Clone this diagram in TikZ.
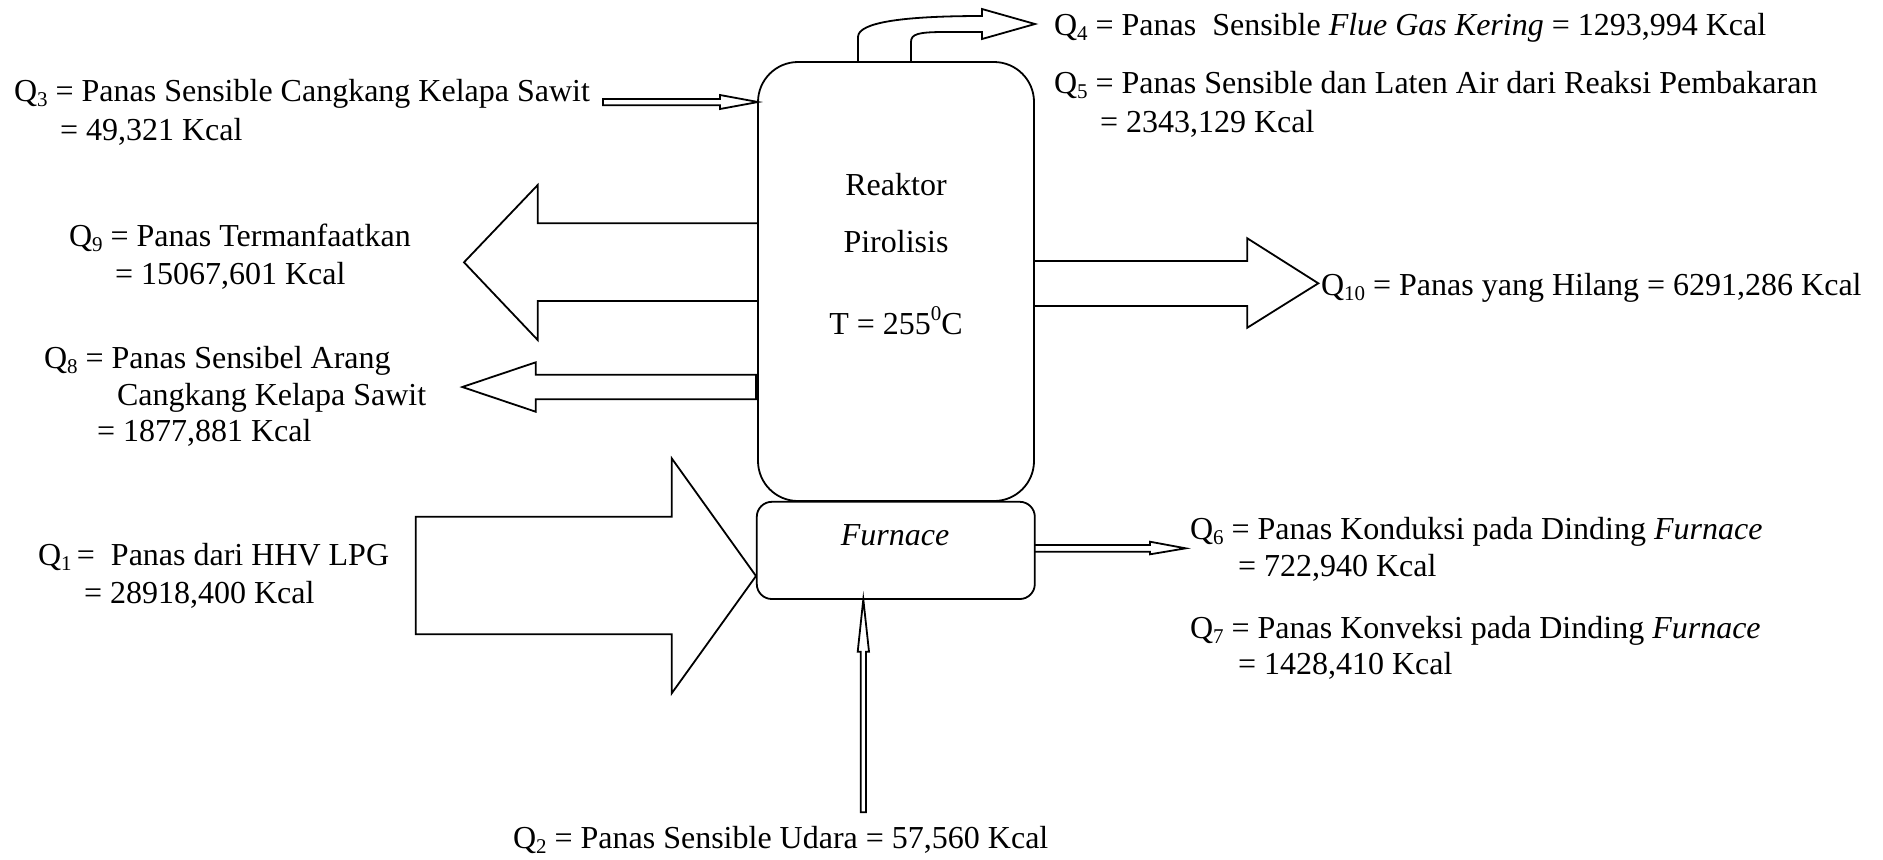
\documentclass[tikz,border=0pt]{standalone}
\usepackage{fontspec}
\setmainfont{Liberation Serif}
\newcommand{\qsub}[1]{\raisebox{-0.16em}{\fontsize{10.5}{10}\selectfont #1}}
\newcommand{\qsup}[1]{\raisebox{0.42em}{\fontsize{10.5}{10}\selectfont #1}}
\begin{document}
\begin{tikzpicture}[x=0.5pt,y=-0.5pt,line width=0.9pt,
  lbl/.style={anchor=base west,inner sep=0pt,outer sep=0pt,font=\fontsize{16}{19}\selectfont},
  clbl/.style={anchor=base,inner sep=0pt,outer sep=0pt,font=\fontsize{16}{19}\selectfont},
  vessel/.style={draw,rectangle,inner sep=0pt,outer sep=0pt}]
\useasboundingbox (0,0) rectangle (1883,859);

% vessels
\node[vessel,rounded corners=20pt,minimum width=138pt,minimum height=219.5pt] (reak) at (896,281.5) {};
\node[vessel,rounded corners=7.5pt,minimum width=139pt,minimum height=48.6pt] (furn) at (895.8,550.4) {};

% texts inside
\node[clbl] (t1) at (896,195) {Reaktor};
\node[clbl] (t2) at (896,252) {Pirolisis};
\node[clbl] (t3) at (896,334) {T = 255\qsup{0}C};
\node[clbl] (tf) at (895,545) {\textit{Furnace}};

% Q4 curved arrow
\draw (858,62) -- (858,37) .. controls (858,22) and (905,16) .. (982,16) -- (982,9) -- (1035,24) -- (982,39) -- (982,32) -- (945,32) .. controls (918,32) and (911,34) .. (911,42) -- (911,62);

% Q3 thin arrow
\draw (603,99) -- (720,99) -- (720,95) -- (758,102) -- (720,109) -- (720,105.3) -- (603,105.3) -- cycle;

% Q9 big arrow
\draw (758,223.3) -- (537.7,223.3) -- (537.7,185) -- (464,262.3) -- (537.7,340) -- (537.7,301) -- (758,301);

% Q8 arrow
\draw (756,374.7) -- (535.7,374.7) -- (535.7,362.3) -- (462.3,387) -- (535.7,411.7) -- (535.7,399.3) -- (756,399.3) -- cycle;

% Q10 arrow
\draw (1034,261) -- (1247.3,261) -- (1247.3,238.3) -- (1318.3,283.3) -- (1247.3,327.7) -- (1247.3,306) -- (1034,306);

% Q1 big arrow
\draw (671.7,516.7) -- (415.7,516.7) -- (415.7,634.3) -- (671.7,634.3) -- (671.7,693.3) -- (756,576) -- (671.7,458.3) -- cycle;

% Q6 thin arrow
\draw (1034,545) -- (1150,545) -- (1150,541.7) -- (1185.7,548.3) -- (1150,554.3) -- (1150,551.7) -- (1034,551.7);

% Q2 thin arrow
\draw (860.7,812.3) -- (860.7,651.7) -- (857.7,651.7) -- (863.3,599.3) -- (869,651.7) -- (866,651.7) -- (866,812.3) -- cycle;

% labels
\node[lbl] (q4) at (1054,35) {Q\qsub{4} = Panas\ \ Sensible \textit{Flue Gas Kering} = 1293,994 Kcal};
\node[lbl] (q5) at (1054,93) {Q\qsub{5} = Panas Sensible dan Laten Air dari Reaksi Pembakaran};
\node[lbl] (q5b) at (1100,132) {= 2343,129 Kcal};
\node[lbl] (q3) at (14,101.7) {Q\qsub{3} = Panas Sensible Cangkang Kelapa Sawit};
\node[lbl] (q3b) at (60,140) {= 49,321 Kcal};
\node[lbl] (q9) at (69,246) {Q\qsub{9} = Panas Termanfaatkan};
\node[lbl] (q9b) at (115,284) {= 15067,601 Kcal};
\node[lbl] (q10) at (1321,295) {Q\qsub{10} = Panas yang Hilang = 6291,286 Kcal};
\node[lbl] (q8) at (44,368) {Q\qsub{8} = Panas Sensibel Arang};
\node[lbl] (q8b) at (117,405) {Cangkang Kelapa Sawit};
\node[lbl] (q8c) at (97,441) {= 1877,881 Kcal};
\node[lbl] (q6) at (1190,539) {Q\qsub{6} = Panas Konduksi pada Dinding \textit{Furnace}};
\node[lbl] (q6b) at (1238,576) {= 722,940 Kcal};
\node[lbl] (q7) at (1190,638) {Q\qsub{7} = Panas Konveksi pada Dinding \textit{Furnace}};
\node[lbl] (q7b) at (1238,674) {= 1428,410 Kcal};
\node[lbl] (q1) at (38,565) {Q\qsub{1}\,= \ Panas dari HHV LPG};
\node[lbl] (q1b) at (84,603) {= 28918,400 Kcal};
\node[lbl] (q2) at (513,848) {Q\qsub{2} = Panas Sensible Udara = 57,560 Kcal};
\end{tikzpicture}
\end{document}
